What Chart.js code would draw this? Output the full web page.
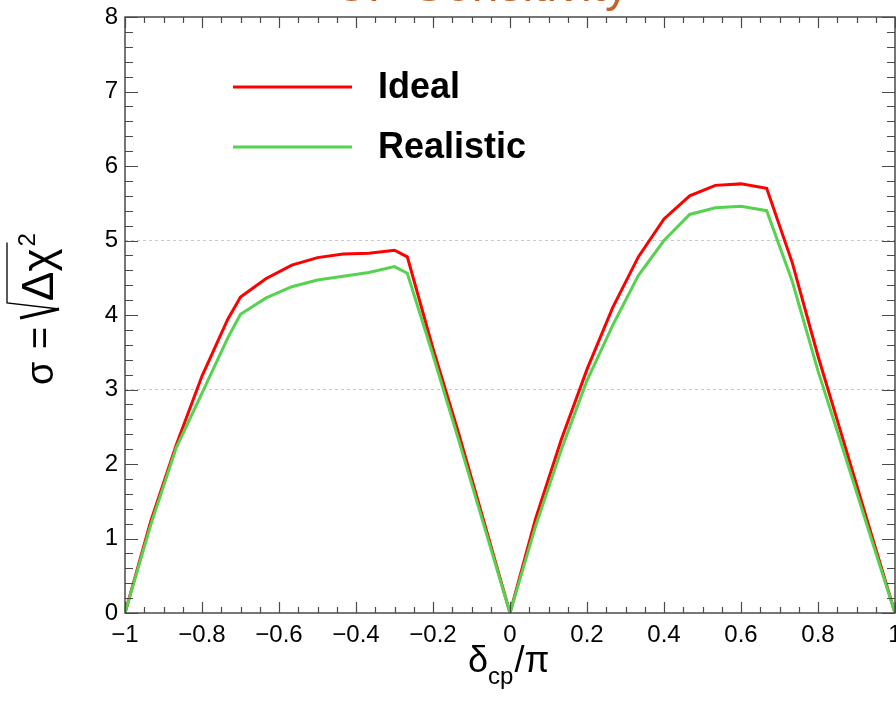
<!DOCTYPE html>
<html lang="en">
<head>
    <meta charset="UTF-8">
    <title>CP Sensitivity</title>
    <script src="https://cdn.jsdelivr.net/npm/chart.js"></script>
    <style>
        html, body { margin: 0; padding: 0; background: #fff; }
        #wrap { width: 896px; height: 703px; }
    </style>
</head>
<body>
    <div id="wrap"><canvas id="sensCanvas" width="896" height="703"></canvas></div>
    <script>
        // delta_CP / pi sampling points
        const deltaCP = [-1, -0.9333, -0.8667, -0.8, -0.7333, -0.7, -0.6333, -0.5667, -0.5, -0.4333,
            -0.3667, -0.3, -0.2667, -0.2, -0.1333, -0.0667, 0, 0.0667, 0.1333, 0.2,
            0.2667, 0.3333, 0.4, 0.4667, 0.5333, 0.6, 0.6667, 0.7333, 0.8, 0.8667, 0.9333, 1];

        // sigma = sqrt(delta chi^2)
        const sigmaIdeal = [0, 1.23, 2.26, 3.18, 3.94, 4.24, 4.49, 4.67, 4.77, 4.82,
            4.83, 4.87, 4.78, 3.55, 2.41, 1.21, 0, 1.27, 2.33, 3.27,
            4.10, 4.78, 5.29, 5.60, 5.74, 5.76, 5.70, 4.70, 3.45, 2.30, 1.15, 0];
        const sigmaRealistic = [0, 1.18, 2.22, 2.95, 3.69, 4.01, 4.23, 4.38, 4.47, 4.52,
            4.57, 4.65, 4.56, 3.46, 2.32, 1.16, 0, 1.17, 2.19, 3.12,
            3.86, 4.53, 5.00, 5.35, 5.44, 5.46, 5.40, 4.45, 3.25, 2.17, 1.08, 0];

        const seriesNames = ['Ideal', 'Realistic'];
        const seriesColors = ['#ff0000', '#55d24f'];
        const dashedLevels = [3, 5];
        const plotTitle = 'CP Sensitivity';

        const FONT = '"Liberation Sans", Arial, Helvetica, sans-serif';

        function toPoints(ys) {
            return deltaCP.map((x, i) => ({ x: x, y: ys[i] }));
        }

        function fmtTick(v) {
            const r = Math.round(v * 10) / 10;
            return String(r).replace('-', '\u2212');
        }

        // frame with inward ticks on all four sides, legend, axis titles
        const rootStyle = {
            id: 'rootStyle',
            afterDraw(chart) {
                const ctx = chart.ctx;
                const a = chart.chartArea;
                const xs = chart.scales.x;
                const ys = chart.scales.y;
                ctx.save();

                // box
                ctx.strokeStyle = '#4a4a4a';
                ctx.lineWidth = 1.5;
                ctx.strokeRect(a.left, a.top, a.right - a.left, a.bottom - a.top);

                // x ticks, major every 0.2 and minor every 0.05
                ctx.lineWidth = 1.2;
                for (let k = 0; k <= 40; k++) {
                    const v = -1 + k * 0.05;
                    const px = Math.round(xs.getPixelForValue(v)) + 0.5;
                    const len = (k % 4 === 0) ? 11 : 6;
                    ctx.beginPath();
                    ctx.moveTo(px, a.bottom); ctx.lineTo(px, a.bottom - len);
                    ctx.moveTo(px, a.top); ctx.lineTo(px, a.top + len);
                    ctx.stroke();
                }
                // y ticks, major every 1 and minor every 0.2
                for (let k = 0; k <= 40; k++) {
                    const v = k * 0.2;
                    const py = Math.round(ys.getPixelForValue(v)) + 0.5;
                    const len = (k % 5 === 0) ? 13 : 8;
                    ctx.beginPath();
                    ctx.moveTo(a.left, py); ctx.lineTo(a.left + len, py);
                    ctx.moveTo(a.right, py); ctx.lineTo(a.right - len, py);
                    ctx.stroke();
                }

                // legend inside the frame
                ctx.lineWidth = 3;
                ctx.font = 'bold 36px ' + FONT;
                ctx.textBaseline = 'middle';
                ctx.fillStyle = '#000';
                const legendY = [87, 147];
                chart.data.datasets.forEach((ds, i) => {
                    ctx.strokeStyle = ds.borderColor;
                    ctx.beginPath();
                    ctx.moveTo(233, legendY[i]); ctx.lineTo(352, legendY[i]);
                    ctx.stroke();
                    ctx.fillText(ds.label, 378, legendY[i] + 1);
                });

                // x axis title: delta_cp / pi
                ctx.textBaseline = 'alphabetic';
                ctx.fillStyle = '#000';
                ctx.font = '36px ' + FONT;
                let x = 468;
                ctx.fillText('\u03b4', x, 672);
                x += ctx.measureText('\u03b4').width;
                ctx.font = '24px ' + FONT;
                ctx.fillText('cp', x, 684);
                x += ctx.measureText('cp').width + 1;
                ctx.font = '36px ' + FONT;
                ctx.fillText('/\u03c0', x, 672);

                // y axis title: sigma = sqrt(delta chi^2), rotated
                ctx.save();
                ctx.translate(53, 385);
                ctx.rotate(-Math.PI / 2);
                ctx.font = '38px ' + FONT;
                ctx.fillText('\u03c3', 0, 0);
                ctx.fillText('=', 36, 0);
                ctx.font = '44px ' + FONT;
                const rootW = ctx.measureText('\u0394\u03c7').width;
                ctx.fillText('\u0394\u03c7', 84, 0);
                ctx.strokeStyle = '#000';
                ctx.lineWidth = 3;
                ctx.beginPath();
                ctx.moveTo(67, -33); ctx.lineTo(76, 6);
                ctx.stroke();
                ctx.lineWidth = 1.3;
                ctx.beginPath();
                ctx.moveTo(76, 6); ctx.lineTo(82, -46); ctx.lineTo(90 + rootW, -46);
                ctx.stroke();
                ctx.font = '24px ' + FONT;
                ctx.fillText('2', 86 + rootW, -18);
                ctx.restore();

                // title, mostly above the canvas edge
                ctx.font = '48px ' + FONT;
                ctx.fillStyle = '#c2622e';
                ctx.fillText(plotTitle, 333, 0.5);

                ctx.restore();
            }
        };

        const ctx = document.getElementById('sensCanvas').getContext('2d');
        new Chart(ctx, {
            type: 'line',
            data: {
                datasets: [
                    { label: seriesNames[0], data: toPoints(sigmaIdeal), borderColor: seriesColors[0], order: 2 },
                    { label: seriesNames[1], data: toPoints(sigmaRealistic), borderColor: seriesColors[1], order: 1 }
                ]
            },
            options: {
                responsive: false,
                animation: false,
                devicePixelRatio: 1,
                layout: { padding: { left: 0, top: 17, right: 1, bottom: 0 } },
                elements: {
                    line: { borderWidth: 3, tension: 0, fill: false },
                    point: { radius: 0 }
                },
                plugins: {
                    legend: { display: false },
                    tooltip: { enabled: false }
                },
                scales: {
                    x: {
                        type: 'linear',
                        min: -1,
                        max: 1,
                        afterFit(scale) {
                            scale.height = 90;
                            scale.paddingLeft = 0;
                            scale.paddingRight = 0;
                        },
                        grid: { display: false, drawTicks: false },
                        border: { display: false },
                        ticks: {
                            stepSize: 0.2,
                            padding: 8,
                            color: '#000',
                            font: { family: FONT, size: 24 },
                            maxRotation: 0,
                            callback: fmtTick
                        }
                    },
                    y: {
                        min: 0,
                        max: 8,
                        afterFit(scale) {
                            scale.width = 125;
                            scale.paddingTop = 0;
                            scale.paddingBottom = 0;
                        },
                        grid: {
                            drawTicks: false,
                            lineWidth: 1,
                            color: (c) => dashedLevels.includes(c.tick && c.tick.value) ? '#c8c8c8' : 'rgba(0,0,0,0)'
                        },
                        border: { display: false, dash: [3, 3] },
                        ticks: {
                            stepSize: 1,
                            padding: 7,
                            color: '#000',
                            font: { family: FONT, size: 24 },
                            callback: fmtTick
                        }
                    }
                }
            },
            plugins: [rootStyle]
        });
    </script>
</body>
</html>
